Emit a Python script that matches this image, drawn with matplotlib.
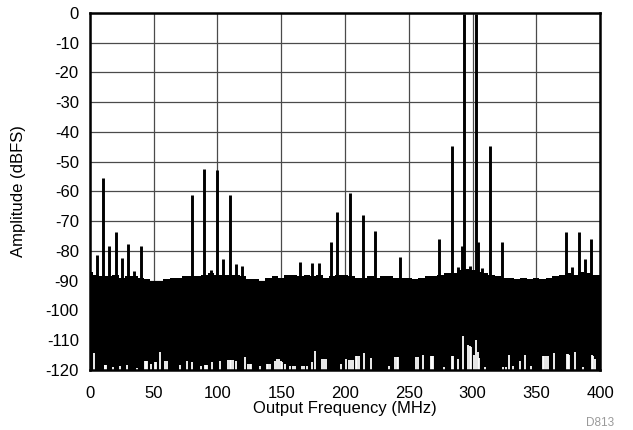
import matplotlib
matplotlib.use("Agg")
import matplotlib.pyplot as plt

plt.rcParams["font.family"] = ["Liberation Sans", "DejaVu Sans"]
plt.rcParams["axes.unicode_minus"] = False

# ---- noise floor: upper envelope read every 5 MHz (dBFS) ----
floor_freq = list(range(0, 405, 5))
floor_top = [-87, -88, -88.5, -88.5, -88, -89, -88.5, -88.5, -89, -89.5,
             -90, -90, -89.5, -89, -89, -88.5, -88.5, -88.5, -88, -87.5,
             -88, -88, -88, -88, -88.5, -89.5, -89.5, -90, -89, -88.5,
             -89, -88, -88, -88.5, -88, -88.5, -88, -89, -88.5, -88,
             -88, -88.5, -89, -89, -88.5, -89, -88.5, -88.5, -89, -89,
             -89, -89.5, -89, -88.5, -88.5, -88, -87.5, -87.5, -86.5, -86,
             -86.5, -87, -87.5, -88, -88.5, -89, -89, -89.5, -89, -89.5,
             -89, -89.5, -89, -88.5, -88, -87.5, -88, -87, -87.5, -88, -88]

# white gaps at the bottom of the noise band (MHz, top of gap in dBFS)
gap_freq = [3.1, 11.5, 12.2, 12.8, 18, 23.3, 29.3, 37.2, 43, 44, 45, 47.7,
            51, 52, 54.8, 59, 60.5, 70.6, 75.8, 80, 87, 90, 91, 92, 96, 102,
            108.6, 109.8, 111, 112.5, 114.3, 121.7, 124, 125.3, 126.7, 133.5,
            138.5, 140, 141.4, 145, 146.5, 148, 149.5, 151, 153, 157, 159,
            161, 166, 168, 170, 174, 176.8, 181.7, 183.3, 185, 197.2, 200.9,
            203, 204.5, 206, 208.5, 209.5, 210.6, 215, 220.3, 234.2, 239.4,
            240.4, 241.3, 255.7, 257, 261.5, 267.5, 268.4, 269.3, 278, 284,
            285, 288.5, 292.9, 296.4, 297.7, 299, 301, 302.9, 304, 305, 309.5,
            324, 326, 328.3, 331.8, 337, 341.5, 346.2, 354.9, 356.4, 357.9,
            359.3, 363.7, 373.7, 374.8, 375.8, 380.3, 386.3, 393.4, 394.7, 396]
gap_top = [-114.4, -118.3, -118.3, -118.3, -119, -118.8, -118.5, -119.3,
           -117, -117, -117, -118.2, -117.5, -117.5, -114, -117, -117,
           -118.5, -117.2, -117.5, -118.8, -118.5, -118.5, -118.5, -117.5,
           -117, -116.7, -116.7, -116.7, -116.7, -117, -115.8, -118, -118,
           -118, -118.7, -118, -118, -118, -117, -116.5, -116.5, -117,
           -117.5, -118, -118.7, -118.7, -118.7, -118.7, -118.7, -118.7,
           -117.5, -113.8, -116.5, -116.5, -116.5, -118, -116.5,
           -116.6, -116.6, -116.6, -115.5, -115.5, -115.5, -114.4, -116,
           -118.8, -115.8, -115.8, -115.8, -115.8, -115.8, -115, -115.5,
           -115.5, -115.5, -119.2, -115.2, -115.2, -116.5, -108.6, -111.6,
           -112, -112.5, -115, -109.9, -114, -116, -119.2, -119.2, -119.2,
           -115, -118.8, -117.2, -115, -118.8, -115.5, -115.5, -115.5,
           -115.5, -114.5, -114.8, -114.8, -115, -114, -119.2, -115, -115.5,
           -116.5]

# ---- spurs and tones (MHz, peak dBFS) ----
spur_freq = [5.3, 10.2, 15.2, 20.2, 24.9, 30.1, 34.9, 39.9, 79.7, 89.7, 95.2,
             99.4, 104.6, 109.6, 114.6, 119.4, 164.7, 174.4, 179.4, 189.1,
             194.1, 204.0, 213.8, 223.4, 243.4, 273.6, 283.8, 288.5, 292.0,
             293.5, 298.2, 303.1, 304.5, 307.6, 313.4, 322.8, 373.2, 378.2,
             383.2, 387.9, 392.8]
spur_peak = [-81.3, -55.5, -78.5, -73.5, -82.5, -77.6, -86.7, -78.5, -61.2,
             -52.4, -86.4, -52.7, -82.6, -61.2, -84.4, -85.0, -83.8, -84.2,
             -84.2, -76.9, -67.0, -60.6, -67.9, -73.2, -82.2, -75.9, -44.6,
             -85.3, -78.5, -0.4, -85.0, -0.4, -77.0, -85.7, -44.6, -76.9,
             -73.5, -85.6, -73.5, -82.7, -76.0]

x_ticks = list(range(0, 401, 50))
y_ticks = list(range(-120, 1, 10))

fig = plt.figure(figsize=(6.33, 4.30), dpi=100)
ax = fig.add_axes([0.142, 0.140, 0.806, 0.830])

ax.fill_between(floor_freq, -125, floor_top, step="mid",
                color="black", lw=0, zorder=2)
ax.vlines(gap_freq, -125, gap_top, color="white", lw=1.3, zorder=3)
ax.vlines(spur_freq, -95, spur_peak, color="black", lw=2.1, zorder=4)

ax.set_xlim(0, 400)
ax.set_ylim(-120, 0)
ax.set_xticks(x_ticks)
ax.set_yticks(y_ticks)
ax.grid(True, color="#4a4a4a", lw=0.9, zorder=1)
ax.set_axisbelow(True)
ax.tick_params(length=0, labelsize=12)
ax.tick_params(axis="x", pad=12)
ax.tick_params(axis="y", pad=8)
for s in ax.spines.values():
    s.set_linewidth(1.8)
    s.set_zorder(5)

ax.set_xlabel("Output Frequency (MHz)", fontsize=12, labelpad=0)
ax.set_ylabel("Amplitude (dBFS)", fontsize=12, labelpad=14)
fig.text(0.97, 0.01, "D813", fontsize=8.5, color="#9a9a9a", ha="right")

fig.savefig("out.png", dpi=100)
